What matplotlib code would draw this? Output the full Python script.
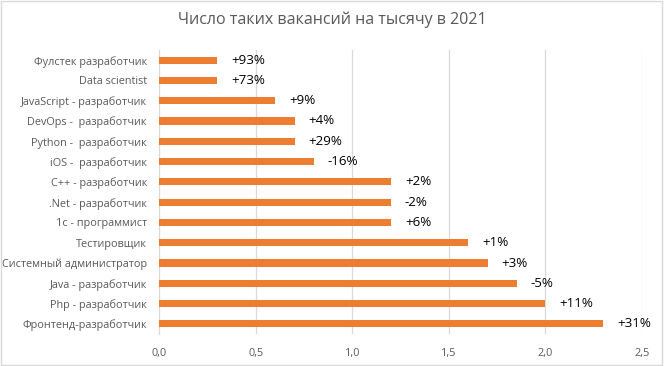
import matplotlib.pyplot as plt
from matplotlib.patches import Rectangle
from matplotlib.ticker import FuncFormatter

plt.rcParams['font.family'] = ['Open Sans', 'DejaVu Sans']

# Professions, top to bottom as in the chart
professions = [
    "Фулстек разработчик",
    "Data scientist",
    "JavaScript - разработчик",
    "DevOps -  разработчик",
    "Python -  разработчик",
    "iOS -  разработчик",
    "C++ - разработчик",
    ".Net - разработчик",
    "1c - программист",
    "Тестировщик",
    "Системный администратор",
    "Java - разработчик",
    "Php - разработчик",
    "Фронтенд-разработчик",
]
# vacancies per thousand in 2021
per_thousand = [0.3, 0.3, 0.6, 0.7, 0.7, 0.8, 1.2, 1.2, 1.2, 1.6, 1.7, 1.85, 2.0, 2.3]
# change labels
changes = ["+93%", "+73%", "+9%", "+4%", "+29%", "-16%", "+2%", "-2%",
           "+6%", "+1%", "+3%", "-5%", "+11%", "+31%"]

fig = plt.figure(figsize=(6.64, 3.66), dpi=100)
ax = fig.add_axes([0.2402, 0.0874, 0.7266, 0.776])

pos = list(range(len(professions)))
bars = ax.barh(pos, per_thousand, height=0.35, color='#ED7D31', zorder=3)
ax.bar_label(bars, labels=changes, padding=10, fontsize=9.6, color='black')

ax.set_yticks(pos)
ax.set_yticklabels(professions)
ax.set_ylim(len(professions) - 0.5, -0.5)
ax.set_xlim(0, 2.5)
ax.set_xticks([0, 0.5, 1.0, 1.5, 2.0, 2.5])
ax.xaxis.set_major_formatter(FuncFormatter(lambda v, p: f"{v:.1f}".replace('.', ',')))

ax.grid(axis='x', color='#D9D9D9', linewidth=0.9, zorder=0)
for s in ['top', 'right', 'bottom']:
    ax.spines[s].set_visible(False)
ax.spines['left'].set_color('#D9D9D9')
ax.tick_params(axis='both', length=0, colors='#595959', labelsize=7.8)
ax.tick_params(axis='x', pad=10)
ax.tick_params(axis='y', pad=9)

fig.text(0.5, 0.945, "Число таких вакансий на тысячу в 2021", ha='center', va='center',
         fontsize=11.5, color='#595959')

fig.patches.append(Rectangle((0.002, 0.004), 0.995, 0.992, transform=fig.transFigure,
                             fill=False, edgecolor='#D9D9D9', linewidth=1))

fig.savefig('out.png', dpi=100)
